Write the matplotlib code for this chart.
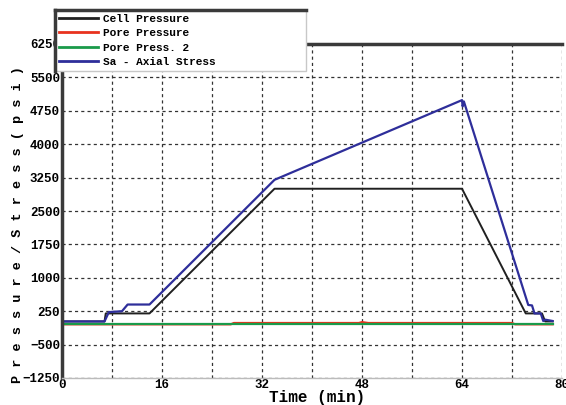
import matplotlib
matplotlib.use('Agg')
import matplotlib.pyplot as plt
from matplotlib.lines import Line2D
import numpy as np

# 数据
cell_t = [0, 6.8, 7.0, 14.0, 34.0, 64.0, 74.2, 76.8, 77.3, 78.5]
cell_p = [20, 20, 200, 200, 3000, 3000, 200, 200, 20, 20]

pore_t = [0, 27.0, 27.5, 47.5, 48.0, 49.0, 72.0, 72.5, 78.5]
pore_p = [-45, -45, -15, -15, 5, -15, -15, -45, -45]

pore2_t = [0, 78.5]
pore2_p = [-40, -40]

axial_t = [0, 6.8, 7.5, 9.6, 10.5, 14.0, 34.0, 64.0, 64.1, 64.3,
           74.6, 75.2, 75.6, 76.6, 77.0, 77.3, 78.5]
axial_p = [20, 20, 230, 250, 400, 400, 3200, 4990, 4850, 4960,
           390, 380, 200, 200, 30, 60, 30]

x_ticks = [0, 16, 32, 48, 64, 80]
y_ticks = [-1250, -500, 250, 1000, 1750, 2500, 3250, 4000, 4750, 5500, 6250]

font = 'Liberation Mono'
dark = '#3a3a3a'

fig = plt.figure(figsize=(5.66, 4.05), dpi=100)
ax = fig.add_axes([62 / 566, 1 - 378 / 405, 500 / 566, 334 / 405])

ax.plot(cell_t, cell_p, color='#202020', lw=1.4, label='Cell Pressure')
ax.plot(pore_t, pore_p, color='#e8321e', lw=1.6, label='Pore Pressure')
ax.plot(pore2_t, pore2_p, color='#1a9a4a', lw=1.6, label='Pore Press. 2')
ax.plot(axial_t, axial_p, color='#2e2e9a', lw=1.6, label='Sa - Axial Stress')

ax.set_xlim(0, 80)
ax.set_ylim(-1250, 6250)
ax.set_xticks(x_ticks)
ax.set_xticks(np.arange(8, 80, 16), minor=True)
ax.set_yticks(y_ticks)
ax.tick_params(axis='x', which='both', length=0, pad=1)
ax.tick_params(axis='y', which='both', length=0, pad=1.5)
for lab in ax.get_xticklabels() + ax.get_yticklabels():
    lab.set_fontfamily(font)
    lab.set_fontweight('bold')
    lab.set_fontsize(9)

ax.grid(True, which='both', color='#333333', linestyle=(0, (2.5, 2.5)), lw=0.9)

ax.spines['right'].set_visible(False)
ax.spines['top'].set_color(dark)
ax.spines['top'].set_linewidth(2.5)
ax.spines['left'].set_color(dark)
ax.spines['left'].set_linewidth(2.5)
ax.spines['bottom'].set_color('#bbbbbb')
ax.spines['bottom'].set_linewidth(1)

ax.set_xlabel('Time (min)', fontfamily=font, fontweight='bold', fontsize=11.5)
ax.xaxis.set_label_coords(0.51, -0.037)
ax.set_ylabel('P r e s s u r e / S t r e s s ( p s i )', fontfamily=font,
              fontweight='bold', fontsize=9.7)
ax.yaxis.set_label_coords(-0.076, 0.46)

# 图例框（左上角，压住坐标区）
lx0, lx1 = 55 / 566, 306 / 566
ly1 = 1 - 10 / 405
leg = fig.legend(loc='upper left', bbox_to_anchor=(lx0, ly1 - 0.2, lx1 - lx0, 0.2),
                 mode='expand', prop={'family': font, 'weight': 'bold', 'size': 8},
                 frameon=True, fancybox=False, borderaxespad=0,
                 handlelength=3.5, handletextpad=0.45, labelspacing=0.4,
                 borderpad=0.35)
for h in leg.legend_handles:
    h.set_linewidth(2)
leg.get_frame().set_edgecolor('#c8c8c8')
leg.get_frame().set_linewidth(1)
leg.get_frame().set_alpha(1)

fig.canvas.draw()
bb = leg.get_window_extent().transformed(fig.transFigure.inverted())
fig.add_artist(Line2D([bb.x0, bb.x1], [bb.y1, bb.y1], color=dark, lw=2.5,
                      transform=fig.transFigure, zorder=10))
fig.add_artist(Line2D([bb.x0, bb.x0], [bb.y0, bb.y1], color=dark, lw=2.5,
                      transform=fig.transFigure, zorder=10))

fig.savefig('out.png', dpi=100)
